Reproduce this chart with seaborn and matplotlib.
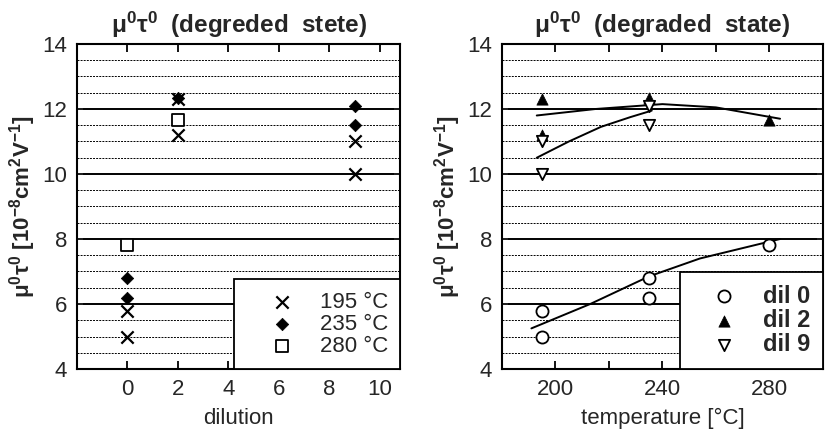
import matplotlib
matplotlib.use("Agg")
import matplotlib.pyplot as plt
import seaborn as sns
import pandas as pd
from matplotlib.ticker import MultipleLocator, FixedLocator

# ---- data ----
dil = [0, 0, 0, 0, 0, 2, 2, 2, 2, 9, 9, 9, 9]
temp = [195, 195, 235, 235, 280, 195, 195, 235, 280, 195, 195, 235, 235]
mutau = [5.0, 5.8, 6.2, 6.8, 7.8, 12.3, 11.2, 12.35, 11.65, 11.0, 10.0, 12.1, 11.5]

temp_levels = [195, 235, 280]
temp_labels = ["195 °C", "235 °C", "280 °C"]
dil_levels = [0, 2, 9]
dil_labels = ["dil 0", "dil 2", "dil 9"]

# fitted trend curves (right panel)
fit0_t = [191, 213, 235, 254, 284]
fit0_v = [5.25, 6.0, 6.85, 7.4, 8.0]
fit2_t = [193, 215, 240, 260, 284]
fit2_v = [11.8, 12.0, 12.15, 12.05, 11.7]
fit9_t = [193, 205, 217, 228, 236]
fit9_v = [10.5, 11.0, 11.45, 11.75, 11.95]

left_xticks = [0, 2, 4, 6, 8, 10]
right_xticks = [200, 240, 280]
right_xminor = [220, 260]

df = pd.DataFrame({"dil": dil, "temp": temp, "mutau": mutau})

# ---- style ----
sns.set_style("white")
plt.rcParams["font.family"] = ["Liberation Sans", "DejaVu Sans"]
plt.rcParams["mathtext.fontset"] = "custom"
plt.rcParams["mathtext.rm"] = "Liberation Sans"
plt.rcParams["mathtext.bf"] = "Liberation Sans:bold"
plt.rcParams["mathtext.it"] = "Liberation Sans:italic"
plt.rcParams["mathtext.default"] = "bf"

FS = 16

fig = plt.figure(figsize=(8.27, 4.33), dpi=100)
ax1 = fig.add_axes([0.0931, 0.1478, 0.3906, 0.7506])
ax2 = fig.add_axes([0.607, 0.1478, 0.388, 0.7506])

temp_styles = {
    195: dict(marker="x", color="black", s=78, linewidth=1.6),
    235: dict(marker="D", color="black", s=40, edgecolor="black", linewidth=0.5),
    280: dict(marker="s", facecolor="white", edgecolor="black", s=64, linewidth=1.3),
}
dil_styles = {
    0: dict(marker="o", facecolor="white", edgecolor="black", s=76, linewidth=1.3),
    2: dict(marker="^", color="black", s=66, edgecolor="black", linewidth=0.5),
    9: dict(marker="v", facecolor="white", edgecolor="black", s=66, linewidth=1.3),
}

# left panel: value vs dilution, grouped by temperature
for lev, lab in zip(temp_levels, temp_labels):
    sub = df[df["temp"] == lev]
    sns.scatterplot(data=sub, x="dil", y="mutau", ax=ax1, label=lab,
                    zorder=3, **temp_styles[lev])

# right panel: value vs temperature, grouped by dilution
for xs, ys in [(fit0_t, fit0_v), (fit2_t, fit2_v), (fit9_t, fit9_v)]:
    sns.lineplot(x=xs, y=ys, ax=ax2, color="black", linewidth=1.4,
                 sort=False, estimator=None, zorder=2)
for lev, lab in zip(dil_levels, dil_labels):
    sub = df[df["dil"] == lev]
    sns.scatterplot(data=sub, x="temp", y="mutau", ax=ax2, label=lab,
                    zorder=3, **dil_styles[lev])

ylab = r"$\mu^0\tau^0$ [10$^{-8}$cm$^2$V$^{-1}$]"

for ax in (ax1, ax2):
    ax.set_ylim(4, 14)
    ax.yaxis.set_major_locator(MultipleLocator(2))
    ax.yaxis.set_minor_locator(MultipleLocator(0.5))
    ax.grid(axis="y", which="major", color="black", linewidth=1.4, linestyle="-")
    ax.grid(axis="y", which="minor", color="black", linewidth=0.7,
            linestyle=(0, (2, 1.2)))
    ax.set_axisbelow(True)
    ax.tick_params(axis="x", which="both", direction="in", top=True, bottom=True,
                   length=6, width=1.3, labelsize=FS, pad=7, color="black")
    ax.tick_params(axis="y", which="major", direction="in", left=True, right=True,
                   length=4, width=1.3, labelsize=FS, pad=7)
    ax.tick_params(axis="y", which="minor", length=0)
    for sp in ax.spines.values():
        sp.set_color("black")
        sp.set_linewidth(1.5)
    ax.set_ylabel(ylab, fontsize=FS, fontweight="bold", labelpad=3)

ax1.set_xlim(-2, 10.8)
ax1.xaxis.set_major_locator(FixedLocator(left_xticks))
ax1.set_xlabel("dilution", fontsize=FS, labelpad=6)
ax1.set_title(r"$\mu^0\tau^0$  (degreded  stete)", fontsize=17.5,
              fontweight="bold", pad=8)

ax2.set_xlim(180, 300)
ax2.xaxis.set_major_locator(FixedLocator(right_xticks))
ax2.xaxis.set_minor_locator(FixedLocator(right_xminor))
ax2.set_xlabel("temperature [°C]", fontsize=FS, labelpad=6)
ax2.set_title(r"$\mu^0\tau^0$  (degraded  state)", fontsize=17.5,
              fontweight="bold", pad=8)

leg1 = ax1.legend(loc="lower right", fontsize=FS, frameon=True, fancybox=False,
                  edgecolor="black", framealpha=1, borderaxespad=0,
                  borderpad=0.55, handlelength=3.2, handletextpad=0.1,
                  labelspacing=0.05)
leg1.get_frame().set_linewidth(1.3)

leg2 = ax2.legend(loc="lower right", frameon=True, fancybox=False,
                  edgecolor="black", framealpha=1, borderaxespad=0,
                  borderpad=0.55, handlelength=2.6, handletextpad=0.35,
                  labelspacing=0.05, prop={"weight": "bold", "size": 17})
leg2.get_frame().set_linewidth(1.3)

fig.savefig("out.png", dpi=100)
